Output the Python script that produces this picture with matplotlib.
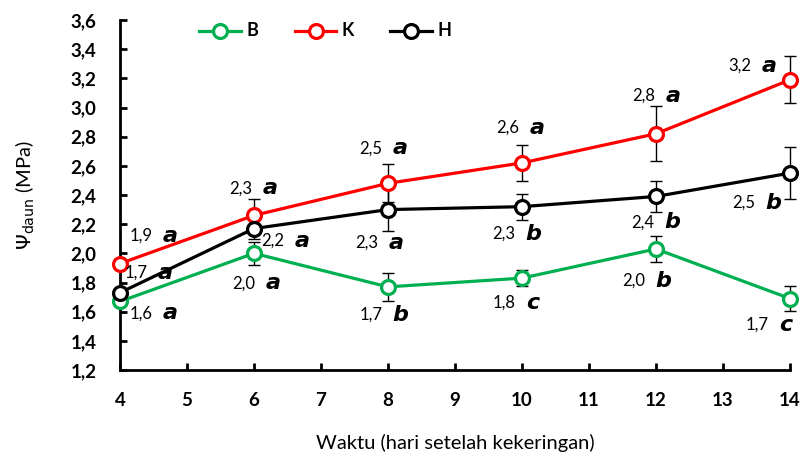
import matplotlib.pyplot as plt

plt.rcParams['font.family'] = ['Lato', 'DejaVu Sans']

hari = [4, 6, 8, 10, 12, 14]

b_val = [1.67, 2.00, 1.77, 1.83, 2.03, 1.69]
k_val = [1.93, 2.26, 2.48, 2.62, 2.82, 3.19]
h_val = [1.73, 2.17, 2.30, 2.32, 2.39, 2.55]

b_err = [0.03, 0.08, 0.095, 0.055, 0.09, 0.085]
k_err = [0.03, 0.11, 0.13, 0.125, 0.19, 0.16]
h_err = [0.03, 0.07, 0.145, 0.09, 0.105, 0.18]

b_lbl = ['1,6', '2,0', '1,7', '1,8', '2,0', '1,7']
k_lbl = ['1,9', '2,3', '2,5', '2,6', '2,8', '3,2']
h_lbl = ['1,7', '2,2', '2,3', '2,3', '2,4', '2,5']

b_huruf = ['a', 'a', 'b', 'c', 'b', 'c']
k_huruf = ['a', 'a', 'a', 'a', 'a', 'a']
h_huruf = ['a', 'a', 'a', 'b', 'b', 'b']

# label offsets in pixels (dx, dy down) from the point
b_off = [(21, 12), (-10, 30), (-17, 28), (-18, 25), (-22, 32), (-33, 26)]
k_off = [(21, -28), (-13, -27), (-17, -35), (-14, -35), (-12, -38), (-50, -14)]
h_off = [(16, -20), (19, 12), (-21, 33), (-18, 27), (-13, 26), (-46, 30)]

fig = plt.figure(figsize=(8.03, 4.57), dpi=100)
ax = fig.add_axes([120 / 803, 87 / 457, 670 / 803, 350 / 457])

series = [
    ('B', b_val, b_err, b_lbl, b_huruf, b_off, '#00B050'),
    ('K', k_val, k_err, k_lbl, k_huruf, k_off, '#FF0000'),
    ('H', h_val, h_err, h_lbl, h_huruf, h_off, 'black'),
]

for nama, val, err, lbl, huruf, off, warna in series:
    eb = ax.errorbar(hari, val, yerr=err, fmt='none', ecolor='black',
                     elinewidth=1, capsize=4, capthick=1, zorder=2)
    for art in eb.lines[1] + eb.lines[2]:
        art.set_clip_on(False)
    ax.plot(hari, val, color=warna, lw=2.3, marker='o', ms=10,
            mfc='white', mec=warna, mew=2.3, label=nama, zorder=3,
            clip_on=False)
    for x, y, t, h, (dx, dy) in zip(hari, val, lbl, huruf, off):
        ax.annotate(t, (x, y), xytext=(dx * 0.72, -dy * 0.72),
                    textcoords='offset points', ha='center', va='center',
                    fontsize=12, zorder=4)
        ax.annotate(h, (x, y), xytext=((dx + 29) * 0.72, -dy * 0.72),
                    textcoords='offset points', ha='center', va='center',
                    fontsize=16, fontweight='bold', fontstyle='italic',
                    family='DejaVu Sans', zorder=4)

ax.set_xlim(4, 14)
ax.set_ylim(1.2, 3.6)
ax.set_xticks(range(4, 15))
yt = [1.2 + 0.2 * i for i in range(13)]
ax.set_yticks(yt)
ax.set_yticklabels([f'{v:.1f}'.replace('.', ',') for v in yt])
for lab in ax.get_xticklabels() + ax.get_yticklabels():
    lab.set_fontweight('bold')
    lab.set_fontsize(13.5)
ax.tick_params(direction='in', length=5, width=2)
ax.tick_params(axis='y', pad=17)
ax.tick_params(axis='x', pad=16)
ax.spines['top'].set_visible(False)
ax.spines['right'].set_visible(False)
ax.spines['left'].set_linewidth(2)
ax.spines['bottom'].set_linewidth(2)

ax.set_xlabel('Waktu (hari setelah kekeringan)', fontsize=14.5, labelpad=18)
ax.set_ylabel(r'$\Psi_{\mathrm{daun}}$ (MPa)', fontsize=14.5, labelpad=24)

leg = ax.legend(loc='center left', bbox_to_anchor=(0.1, 0.97), ncol=3,
                frameon=False, handlelength=3.0, columnspacing=2.6,
                handletextpad=0.4)
for t in leg.get_texts():
    t.set_fontweight('bold')
    t.set_fontsize(13)

plt.savefig('out.png', dpi=100)
